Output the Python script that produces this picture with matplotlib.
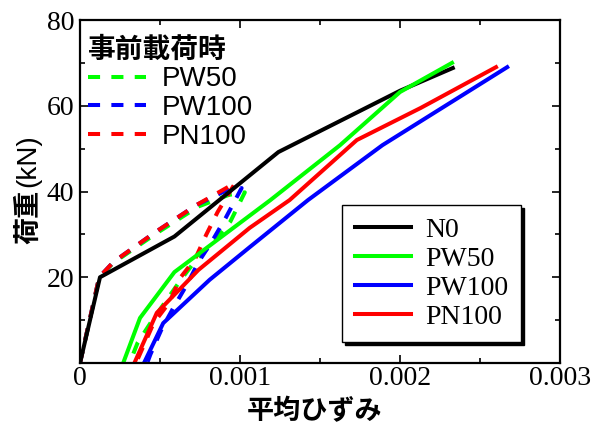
import matplotlib
matplotlib.use("Agg")
import matplotlib.pyplot as plt
from matplotlib.font_manager import FontProperties
from matplotlib.ticker import FixedLocator, FixedFormatter

# ---- data: average strain vs. load ----
# pre-loading cycles (load up, then unload)
pre_pw50_x = [0, 0.00012, 0.00021, 0.00048, 0.00074, 0.00093, 0.00103, 0.00094, 0.00083, 0.00072, 0.00063, 0.00044, 0.00036, 0.00031]
pre_pw50_y = [0, 20, 23.4, 30.3, 36.5, 39.2, 39.8, 33.0, 28.0, 23.8, 19.4, 9.3, 4.7, 0]
pre_pw100_x = [0, 0.00012, 0.00021, 0.00047, 0.00073, 0.00090, 0.00101, 0.00091, 0.00083, 0.00074, 0.00067, 0.00059, 0.00051, 0.00044, 0.00042]
pre_pw100_y = [0, 20, 23.6, 30.5, 36.9, 40.0, 40.8, 33.8, 28.7, 23.5, 18.4, 13.3, 7.9, 2.0, 0]
pre_pn100_x = [0, 0.00012, 0.00021, 0.00047, 0.00073, 0.00097, 0.00086, 0.00079, 0.00072, 0.000625, 0.00056, 0.00046, 0.00035]
pre_pn100_y = [0, 20, 23.6, 30.5, 36.9, 42.0, 35.2, 30.0, 24.3, 19.8, 14.2, 9.3, 0]

# main loading
n0_x = [0, 0.000125, 0.00059, 0.00124, 0.00200, 0.00233]
n0_y = [0, 20, 29.5, 49.2, 63.5, 68.8]
pw50_x = [0.00027, 0.000375, 0.00059, 0.00119, 0.001625, 0.00200, 0.002325]
pw50_y = [0, 10.5, 21.2, 38.0, 50.8, 63.2, 70.0]
pw100_x = [0.00040, 0.00052, 0.00081, 0.00106, 0.001425, 0.00189, 0.00267]
pw100_y = [0, 9.3, 19.4, 27.0, 38.0, 50.8, 69.0]
pn100_x = [0.00034, 0.00048, 0.00074, 0.00106, 0.00131, 0.00173, 0.00213, 0.00260]
pn100_y = [0, 11.7, 21.7, 31.5, 38.0, 52.0, 59.5, 69.0]

x_ticks = [0, 0.001, 0.002, 0.003]
x_tick_labels = ["0", "0.001", "0.002", "0.003"]
x_minor = [0.0005, 0.0015, 0.0025]
y_ticks = [20, 40, 60, 80]
y_tick_labels = ["20", "40", "60", "80"]
y_minor = [10, 30, 50, 70]

GREEN = "#00ff00"
BLUE = "#0000ff"
RED = "#ff0000"
BLACK = "#000000"

serif = FontProperties(family="Liberation Serif", size=20)
sans = FontProperties(family="Liberation Sans", size=20)
cjk_bold = FontProperties(family="Noto Sans CJK JP", weight="bold", size=19.5)

fig = plt.figure(figsize=(6.02, 4.28), dpi=100)
ax = fig.add_axes([80 / 602, 65 / 428, 480 / 602, 343 / 428])

LW = 2.9
DASH = (3.0, 2.8)

# pre-loading curves (dashed)
d1, = ax.plot(pre_pw50_x, pre_pw50_y, color=GREEN, lw=LW, dashes=DASH, label="PW50")
d2, = ax.plot(pre_pw100_x, pre_pw100_y, color=BLUE, lw=LW, dashes=DASH, label="PW100")
d3, = ax.plot(pre_pn100_x, pre_pn100_y, color=RED, lw=LW, dashes=DASH, label="PN100")

# main loading curves (solid)
s0, = ax.plot(n0_x, n0_y, color=BLACK, lw=LW, label="N0")
s1, = ax.plot(pw50_x, pw50_y, color=GREEN, lw=LW, label="PW50")
s2, = ax.plot(pw100_x, pw100_y, color=BLUE, lw=LW, label="PW100")
s3, = ax.plot(pn100_x, pn100_y, color=RED, lw=LW, label="PN100")

ax.set_xlim(0, 0.003)
ax.set_ylim(0, 80)
ax.xaxis.set_major_locator(FixedLocator(x_ticks))
ax.xaxis.set_major_formatter(FixedFormatter(x_tick_labels))
ax.xaxis.set_minor_locator(FixedLocator(x_minor))
ax.yaxis.set_major_locator(FixedLocator(y_ticks))
ax.yaxis.set_major_formatter(FixedFormatter(y_tick_labels))
ax.yaxis.set_minor_locator(FixedLocator(y_minor))
ax.tick_params(which="both", direction="in", top=True, right=True, width=1.2)
ax.tick_params(which="major", length=5.8)
ax.tick_params(which="minor", length=3.6)
ax.tick_params(axis="x", pad=2)
ax.tick_params(axis="y", pad=4)
for lab in ax.get_xticklabels() + ax.get_yticklabels():
    lab.set_fontproperties(serif)
for sp in ax.spines.values():
    sp.set_linewidth(1.6)

# pre-loading legend
leg1 = ax.legend(handles=[d1, d2, d3], title="事前載荷時", loc="upper left",
                 bbox_to_anchor=(-0.012, 0.995), frameon=False, prop=sans,
                 title_fontproperties=FontProperties(family="Noto Sans CJK JP", weight="bold", size=20),
                 alignment="left", handlelength=2.1, handletextpad=0.55,
                 labelspacing=0.1, borderpad=0.3, borderaxespad=0.2)
ax.add_artist(leg1)

# main legend
leg2 = ax.legend(handles=[s0, s1, s2, s3], loc="lower right",
                 bbox_to_anchor=(441 / 480, 21 / 343), frameon=True, prop=serif,
                 handlelength=2.05, handletextpad=0.5, labelspacing=0.12,
                 borderpad=0.45, borderaxespad=0.0, fancybox=False,
                 shadow={"color": "black", "alpha": 1.0})
leg2.get_frame().set_edgecolor("black")
leg2.get_frame().set_linewidth(1.0)

# axis labels
fig.text(315 / 602, 1 - 411 / 428, "平均ひずみ", fontproperties=cjk_bold,
         ha="center", va="center")
fig.text(28 / 602, 1 - 217 / 428, "荷重", fontproperties=cjk_bold,
         rotation=90, ha="center", va="center")
fig.text(28 / 602, 1 - 161 / 428, "(kN)", fontproperties=FontProperties(family="Liberation Sans", size=20),
         rotation=90, ha="center", va="center")

fig.savefig("out.png", dpi=100)
